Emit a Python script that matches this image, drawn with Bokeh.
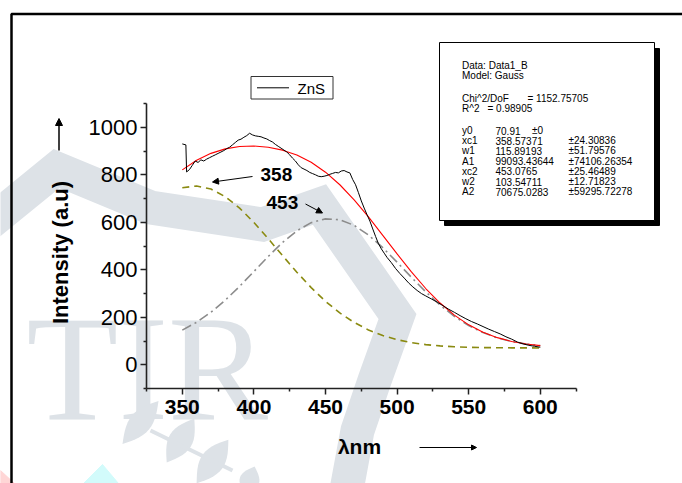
from bokeh.plotting import figure
from bokeh.models import Range1d, LinearAxis, FixedTicker, Arrow, NormalHead
from bokeh.core.properties import value
from bokeh.embed import file_html
from bokeh.resources import INLINE
import math

# ---------------- data ----------------
wavelength = [350, 352.5, 353, 355, 357, 359, 361, 363, 365, 367, 369, 371, 373, 375, 377, 379,
              381, 383, 385, 387, 389, 391, 393, 395, 397, 399, 401, 403, 405, 407, 409, 411,
              413, 415, 417, 419, 421, 423, 425, 427, 429, 431, 433, 435, 437, 439, 441, 443,
              445, 447, 449, 451, 453, 455, 457, 459, 461, 463, 465, 467, 469, 471, 473, 475,
              477, 479, 481, 483, 485, 487, 489, 491, 493, 496, 499, 502, 505, 508, 511, 514,
              517, 520, 524, 528, 532, 536, 540, 544, 548, 552, 556, 560, 564, 568, 572, 576,
              580, 584, 588, 592, 596, 600]
intensity = [930, 926, 812, 822, 840, 858, 852, 863, 858, 866, 872, 878, 884, 890, 896, 902,
             910, 916, 926, 936, 946, 950, 958, 965, 975, 968, 964, 962, 960, 955, 951, 944,
             938, 928, 920, 912, 904, 896, 884, 870, 858, 842, 830, 824, 818, 810, 805, 800,
             794, 792, 794, 797, 802, 806, 810, 808, 816, 818, 812, 808, 780, 758, 725, 690,
             660, 632, 605, 572, 540, 510, 488, 470, 452, 430, 405, 384, 365, 345, 328, 313,
             300, 290, 277, 264, 249, 234, 221, 207, 194, 182, 172, 161, 150, 140, 130, 118,
             108, 96, 88, 82, 78, 74]

fit_x = [350, 360, 370, 380, 390, 400, 410, 420, 430, 440, 450, 460, 470,
         480, 490, 500, 510, 520, 530, 540, 550, 560, 570, 580, 590, 600]
fit_total = [820.7, 861.1, 890.3, 909.1, 919.1, 921.2, 916.2, 903.8, 883.1, 852.6, 811.0, 758.1, 694.6,
             622.5, 545.3, 466.8, 390.9, 321.2, 260.1, 209.1, 168.2, 137.1, 114.3, 98.4, 87.6, 80.7]
peak1 = [745.7, 752.9, 740.0, 708.0, 659.8, 599.2, 531.0, 459.8, 390.0, 325.1, 267.4, 218.3, 178.3,
         146.8, 123.0, 105.6, 93.3, 85.0, 79.5, 76.0, 73.8, 72.5, 71.8, 71.4, 71.1, 71.0]
peak2 = [145.9, 179.1, 221.2, 272.0, 330.2, 392.9, 456.1, 514.9, 564.0, 598.4, 614.5, 610.7, 587.2,
         546.6, 493.2, 432.1, 368.5, 307.1, 251.5, 204.0, 165.3, 135.5, 113.4, 97.9, 87.4, 80.6]

x_ticks = [350, 400, 450, 500, 550, 600]
x_minor = [325, 375, 425, 475, 525, 575, 625]
y_ticks = [0, 200, 400, 600, 800, 1000]
y_minor = [-100, 100, 300, 500, 700, 900, 1100]

peak_labels = ["358", "453"]
legend_label = "ZnS"
x_title = "\u03bbnm"
y_title = "Intensity (a.u)"

stats_head = ["Data: Data1_B", "Model: Gauss"]
chi_text = ["Chi^2/DoF", "= 1152.75705"]
r2_text = ["R^2", "=  0.98905"]
param_names = ["y0", "xc1", "w1", "A1", "xc2", "w2", "A2"]
param_values = ["70.91", "358.57371", "115.89193", "99093.43644", "453.0765", "103.54711", "70675.0283"]
param_errors = ["\u00b10", "\u00b124.30836", "\u00b151.79576", "\u00b174106.26354",
                "\u00b125.46489", "\u00b112.71823", "\u00b159295.72278"]

# ---------------- layout helpers (pixel -> data) ----------------
W, H = 682, 483
KX = 1.432     # px per nm
KY = 0.2375    # px per intensity unit
PX_X0 = 146.0  # pixel of x = 325
PY_Y0 = 364.3  # pixel of y = 0


def dx(px):
    return 325 + (px - PX_X0) / KX


def dy(py):
    return (PY_Y0 - py) / KY


def leaf(cx, cy, length, width, ang_deg, n=14):
    """Lens-shaped outline in pixel space, returned in data coordinates."""
    a = math.radians(ang_deg)
    ux, uy = math.cos(a), -math.sin(a)
    nx, ny = math.sin(a), math.cos(a)
    xs, ys = [], []
    for side in (1, -1):
        rng = range(n + 1) if side == 1 else range(n, -1, -1)
        for k in rng:
            t = k / n
            s = (t - 0.5) * length
            h = side * width / 2 * math.sin(math.pi * t)
            xs.append(dx(cx + ux * s + nx * h))
            ys.append(dy(cy + uy * s + ny * h))
    return xs, ys


FONT = "Liberation Sans"

p = figure(width=W, height=H, x_range=Range1d(dx(0), dx(W)), y_range=Range1d(dy(H), dy(0)),
           x_axis_type=None, y_axis_type=None, toolbar_location=None, output_backend="svg",
           min_border=0, outline_line_color=None)
p.background_fill_color = "white"
p.border_fill_color = "white"

# ---------------- watermark ----------------
WM = "#dde2e7"
band_px = [(-20, 230), (56, 168), (150, 207), (262, 224), (319, 204), (397, 316),
           (374, 380), (357, 430), (345, 495)]
p.line([dx(a) for a, b in band_px], [dy(b) for a, b in band_px], line_width=34,
       line_color=WM, line_join="miter")
p.text(x=[dx(26)], y=[dy(367)], text=["TIR"], text_font=value("Liberation Serif"),
       text_font_size=value("150px"), text_color=WM, text_baseline="alphabetic")
for spec in [(140, 422, 56, 22, 50), (180, 440, 52, 24, 58), (212, 461, 54, 24, 54),
             (249, 480, 30, 20, 70)]:
    lx, ly = leaf(*spec)
    p.patch(lx, ly, fill_color=WM, line_color=None)
p.line([dx(150), dx(232)], [dy(430), dy(470)], line_color=WM, line_width=4)
p.patch([dx(0), dx(14), dx(0)], [dy(470), dy(483), dy(483)], color="#ffd6d6")
p.patch([dx(83), dx(102), dx(118)], [dy(483), dy(464), dy(483)], color="#d2fbfb")

# ---------------- outer frame ----------------
p.line([dx(11), dx(11), dx(W + 5)], [dy(H + 5), dy(13.5), dy(13.5)], line_color="black",
       line_width=2.5)

# ---------------- curves ----------------
p.line(fit_x, peak1, line_color="#8a8a10", line_width=1.6, line_dash="7 5")
p.line(fit_x, peak2, line_color="#8c8c8c", line_width=1.6, line_dash="10 4 2 4")
p.line(fit_x, fit_total, line_color="#ff0000", line_width=1.1)
p.line(wavelength, intensity, line_color="black", line_width=1.0)

# ---------------- axes ----------------
xaxis = LinearAxis(fixed_location=-100, bounds=(325, 625),
                   ticker=FixedTicker(ticks=x_ticks, minor_ticks=x_minor))
yaxis = LinearAxis(fixed_location=325, bounds=(-100, 1100),
                   ticker=FixedTicker(ticks=y_ticks, minor_ticks=y_minor))
for ax in (xaxis, yaxis):
    ax.axis_line_color = "#222222"
    ax.axis_line_width = 1.6
    ax.major_tick_line_color = "#222222"
    ax.minor_tick_line_color = "#222222"
    ax.major_tick_line_width = 1.5
    ax.minor_tick_line_width = 1.5
    ax.major_tick_in = 0
    ax.minor_tick_in = 0
    ax.major_tick_out = 6
    ax.minor_tick_out = 3
    ax.major_label_text_font = FONT
    ax.major_label_text_color = "black"
xaxis.major_label_text_font_size = "21px"
xaxis.major_label_text_font_style = "bold"
xaxis.major_label_standoff = 5
yaxis.major_label_text_font_size = "22px"
yaxis.major_label_standoff = 3
p.add_layout(xaxis, "below")
p.add_layout(yaxis, "left")

# axis titles and arrows
p.text(x=[dx(60)], y=[dy(252)], text=[y_title], angle=math.pi / 2, text_align="center",
       text_baseline="middle", text_font=value(FONT), text_font_style="bold",
       text_font_size=value("22px"), text_color="black")
p.add_layout(Arrow(end=NormalHead(size=7, fill_color="black", line_color="black"),
                   x_start=dx(58.5), y_start=dy(150), x_end=dx(58.5), y_end=dy(118),
                   line_width=1.5, line_color="black"))
p.text(x=[dx(359)], y=[dy(446)], text=[x_title], text_align="center", text_baseline="middle",
       text_font=value(FONT), text_font_style="bold", text_font_size=value("21px"),
       text_color="black")
p.add_layout(Arrow(end=NormalHead(size=5, fill_color="black", line_color="black"),
                   x_start=dx(419), y_start=dy(447), x_end=dx(476), y_end=dy(447),
                   line_width=1, line_color="black"))

# peak annotations
p.text(x=[dx(260), dx(266)], y=[dy(174), dy(202)], text=peak_labels, text_align="left",
       text_baseline="middle", text_font=value(FONT), text_font_style="bold",
       text_font_size=value("19px"), text_color="black")
p.add_layout(Arrow(end=NormalHead(size=6, fill_color="black", line_color="black"),
                   x_start=dx(252), y_start=dy(176), x_end=dx(212), y_end=dy(181.5),
                   line_width=1, line_color="black"))
p.add_layout(Arrow(end=NormalHead(size=6, fill_color="black", line_color="black"),
                   x_start=dx(305), y_start=dy(203.5), x_end=dx(322), y_end=dy(212.5),
                   line_width=1, line_color="black"))

# ---------------- legend box ----------------
p.quad(left=[dx(250.5)], right=[dx(332.5)], top=[dy(76)], bottom=[dy(98.5)],
       fill_color="white", line_color="#333333", line_width=1)
p.line([dx(256.5), dx(288.5)], [dy(87.3), dy(87.3)], line_color="black", line_width=1)
p.text(x=[dx(297)], y=[dy(87.5)], text=[legend_label], text_baseline="middle",
       text_font=value(FONT), text_font_size=value("15px"), text_color="black")

# ---------------- statistics box ----------------
p.quad(left=[dx(444)], right=[dx(659)], top=[dy(48)], bottom=[dy(225)],
       fill_color="black", line_color="black")
p.quad(left=[dx(439)], right=[dx(654)], top=[dy(42)], bottom=[dy(220)],
       fill_color="white", line_color="black", line_width=1)

STAT_FS = value("10px")
tx, ty, tt = [], [], []
tx += [dx(461.5), dx(461.5)]
ty += [dy(65), dy(74.5)]
tt += stats_head
tx += [dx(461.5), dx(527)]
ty += [dy(97.5), dy(97.5)]
tt += chi_text
tx += [dx(461.5), dx(487)]
ty += [dy(107.5), dy(107.5)]
tt += r2_text
for i, (n, v, e) in enumerate(zip(param_names, param_values, param_errors)):
    yy = dy(130 + 10.2 * i)
    tx += [dx(461.5), dx(495), dx(531.5) if i == 0 else dx(568)]
    ty += [yy, yy, yy]
    tt += [n, v, e]
p.text(x=tx, y=ty, text=tt, text_baseline="middle", text_align="left",
       text_font=value(FONT), text_font_size=STAT_FS, text_color="black")

open("out.html", "w").write(file_html(p, INLINE))
